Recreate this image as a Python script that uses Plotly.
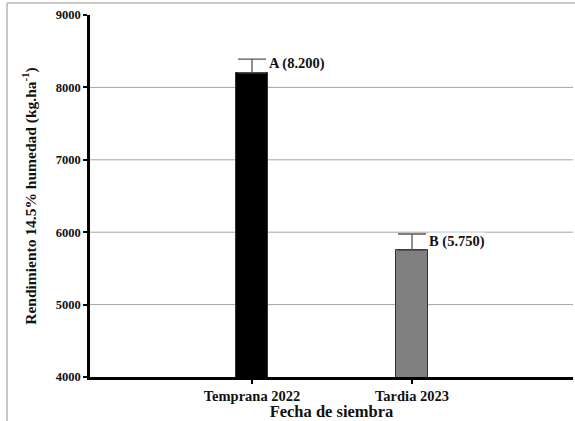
import plotly.graph_objects as go

categories = ["Temprana 2022", "Tardia 2023"]
positions = [0, 1]
values = [8200, 5750]
errors = [190, 225]
labels = ["A (8.200)", "B (5.750)"]
bar_colors = ["#000000", "#808080"]
y_ticks = [4000, 5000, 6000, 7000, 8000, 9000]
grid_values = [5000, 6000, 7000, 8000]

FONT = "Liberation Serif"

fig = go.Figure()
fig.add_trace(go.Bar(
    x=positions, y=values, width=0.195,
    marker=dict(color=bar_colors, line=dict(color="#333333", width=1)),
    error_y=dict(type="data", symmetric=False, array=errors, arrayminus=[0] * len(errors),
                 visible=True, color="#555555", thickness=1.3, width=14),
    showlegend=False,
))

for v in grid_values:
    fig.add_hline(y=v, line=dict(color="#a6a6a6", width=1), layer="below")

for p, v, t in zip(positions, values, labels):
    fig.add_annotation(x=p, y=v, text="<b>%s</b>" % t, showarrow=False,
                       xanchor="left", yanchor="middle", xshift=16, yshift=9,
                       font=dict(family=FONT, size=14.5, color="#111111"),
                       bgcolor="white", borderpad=0)

# outer frame (top and left edges visible)
fig.add_shape(type="line", xref="paper", yref="paper", x0=-0.1718, x1=1.2,
              y0=1.0331, y1=1.0331, line=dict(color="#c8c8c8", width=2))
fig.add_shape(type="line", xref="paper", yref="paper", x0=-0.1718, x1=-0.1718,
              y0=-0.2, y1=1.0331, line=dict(color="#c8c8c8", width=2))

fig.update_layout(
    width=575, height=421,
    margin=dict(l=90, r=2, t=15, b=44),
    paper_bgcolor="white", plot_bgcolor="white",
    font=dict(family=FONT, color="#111111"),
    bargap=0,
)
fig.update_xaxes(
    range=[-1.0125, 2.006], tickvals=positions, ticktext=["<b>%s</b>" % c for c in categories],
    tickfont=dict(family=FONT, size=14.5), ticks="outside", ticklen=4, tickwidth=1.5,
    tickcolor="black", showline=True, linecolor="black", linewidth=2.5,
    showgrid=False, zeroline=False,
    title=dict(text="<b>Fecha de siembra</b>", font=dict(family=FONT, size=16.5), standoff=2),
)
fig.update_yaxes(
    range=[4000, 9000], tickvals=y_ticks, ticktext=["<b>%d</b>" % t for t in y_ticks],
    tickfont=dict(family=FONT, size=12.5), ticks="outside", ticklen=4, tickwidth=1.5,
    tickcolor="black", showline=True, linecolor="black", linewidth=2.5,
    showgrid=False, zeroline=False,
    title=dict(text="<b>Rendimiento 14.5% humedad (kg.ha<sup>-1</sup>)</b>",
               font=dict(family=FONT, size=15.5), standoff=16),
)

fig.write_html("out.html", config={"displayModeBar": False},
               post_script="document.body.style.margin='0';document.body.style.overflow='hidden';")
